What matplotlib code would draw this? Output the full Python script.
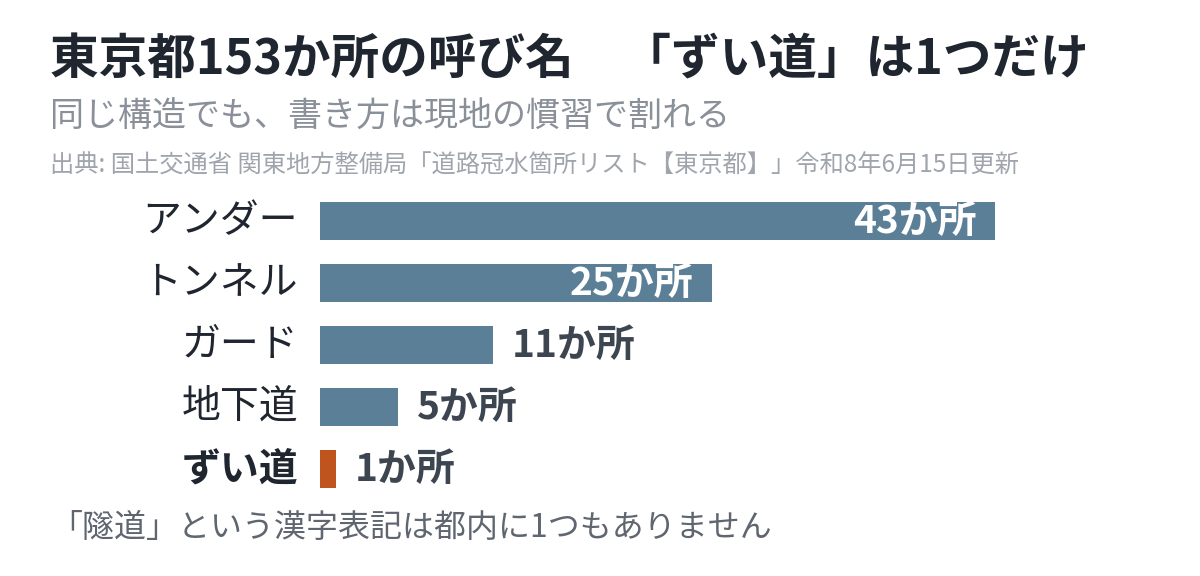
import matplotlib
matplotlib.use("Agg")
import matplotlib.pyplot as plt

plt.rcParams['font.family'] = ['Noto Sans CJK JP', 'DejaVu Sans']

categories = ["アンダー", "トンネル", "ガード", "地下道", "ずい道"]
values = [43, 25, 11, 5, 1]
value_labels = ["43か所", "25か所", "11か所", "5か所", "1か所"]
highlight = "ずい道"

fig = plt.figure(figsize=(12, 5.76), dpi=100)
ax = fig.add_axes([320/1200, 1-500/576, 675/1200, 310/576])
ys = list(range(len(categories)))
colors = ["#c0541f" if c == highlight else "#5b7f96" for c in categories]
ax.barh(ys, values, height=0.62, color=colors)
ax.set_xlim(0, 43)
ax.set_ylim(len(categories)-0.5, -0.5)
ax.axis('off')

for y, c, v, lab in zip(ys, categories, values, value_labels):
    bold = c == highlight
    ax.text(-1.4, y, c, ha='right', va='center', fontsize=28,
            color="#1f2630", fontweight='bold' if bold else 'normal')
    if v >= 20:
        ax.text(v - 1.2, y, lab, ha='right', va='center', fontsize=28,
                color='white', fontweight='bold')
    else:
        ax.text(v + 1.2, y, lab, ha='left', va='center', fontsize=28,
                color='#3d4650', fontweight='bold')

fig.text(50/1200, 1-60/576, "東京都153か所の呼び名　「ずい道」は1つだけ", fontsize=35,
         fontweight='bold', color="#1f2630", va='center', ha='left')
fig.text(50/1200, 1-117/576, "同じ構造でも、書き方は現地の慣習で割れる", fontsize=24.5,
         color="#8a9099", va='center', ha='left')
fig.text(50/1200, 1-166/576, "出典: 国土交通省 関東地方整備局「道路冠水箇所リスト【東京都】」令和8年6月15日更新",
         fontsize=17.5, color="#a0a5ad", va='center', ha='left')
fig.text(50/1200, 1-528/576, "「隧道」という漢字表記は都内に1つもありません", fontsize=23,
         color="#5f6670", va='center', ha='left')

fig.savefig("out.png", dpi=100, facecolor='white')
